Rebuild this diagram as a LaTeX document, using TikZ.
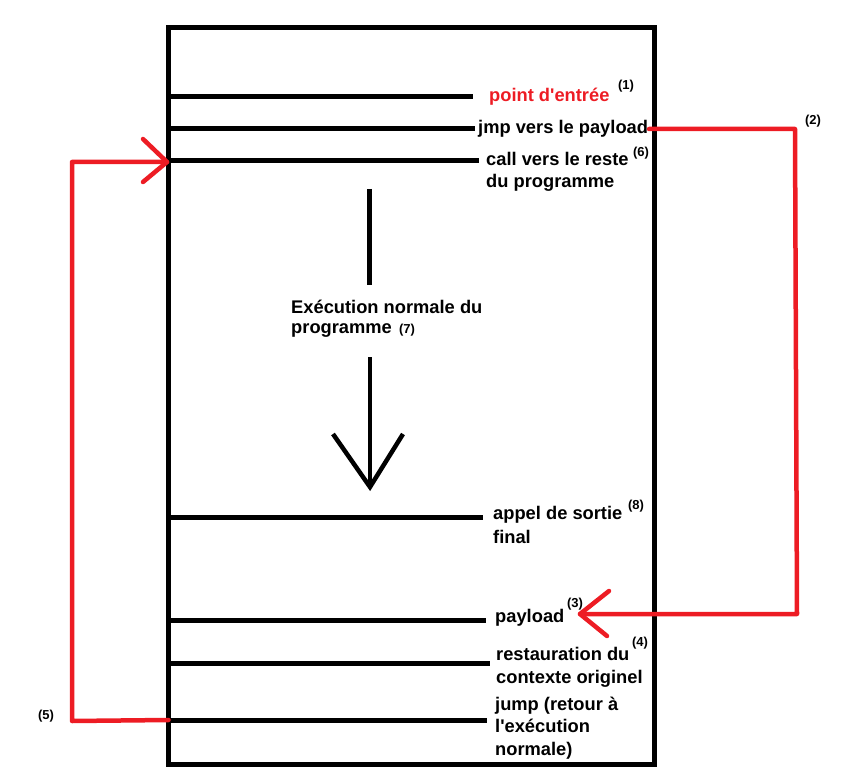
\documentclass[tikz,border=0pt]{standalone}
\usepackage{fontspec}
\setmainfont{Liberation Sans}
\definecolor{pred}{RGB}{237,28,36}
\begin{document}
\begin{tikzpicture}[x=1pt,y=-1pt,
  bar/.style={line width=5pt,black},
  redl/.style={line width=4.5pt,pred,line join=round,line cap=round},
  lbl/.style={font=\bfseries\fontsize{18.3}{22}\selectfont,anchor=base west,inner sep=0pt,align=left},
  supl/.style={font=\bfseries\fontsize{13}{15}\selectfont,inner sep=0pt}]
\useasboundingbox (0,0) rectangle (841,781);
% frame
\draw[bar] (168.5,27.5) rectangle (654.5,764.5);
% line start points on the frame
\coordinate (s1) at (168.5,97);
\coordinate (s2) at (168.5,129);
\coordinate (s3) at (168.5,161);
\coordinate (s8) at (168.5,517);
\coordinate (s3b) at (168.5,620);
\coordinate (s4) at (168.5,663);
\coordinate (s5) at (168.5,720);
% line end points
\coordinate (e1) at (473,97);
\coordinate (e2) at (475,129);
\coordinate (e3) at (479,161);
\coordinate (e8) at (483,517);
\coordinate (e3b) at (486,620);
\coordinate (e4) at (490,663);
\coordinate (e5) at (487,720);
\draw[bar] (s1) -- (e1);
\draw[bar] (s2) -- (e2);
\draw[bar] (s3) -- (e3);
\draw[bar] (s8) -- (e8);
\draw[bar] (s3b) -- (e3b);
\draw[bar] (s4) -- (e4);
\draw[bar] (s5) -- (e5);
% labels
\node[lbl,text=pred] (entree) at (489,102) {point d\textquotesingle entrée};
\node[supl] (n1) at (626,86) {(1)};
\node[lbl] (jmp) at (478,134) {jmp vers le payload};
\node[lbl] (call) at (486,188) {call vers le reste\\du programme};
\node[supl] (n6) at (641,153) {(6)};
\node[lbl,font=\bfseries\fontsize{18.3}{20}\selectfont] (exec) at (291,333) {Exécution normale du\\programme};
\node[supl] (n7) at (407,330) {(7)};
\node[lbl,font=\bfseries\fontsize{18.3}{24}\selectfont] (sortie) at (493,543) {appel de sortie\\final};
\node[supl] (n8) at (636,506) {(8)};
\node[lbl] (payload) at (495,622) {payload};
\node[supl] (n3) at (575,604) {(3)};
\node[lbl,font=\bfseries\fontsize{18.3}{23}\selectfont] (resto) at (496,683) {restauration du\\contexte originel};
\node[supl] (n4) at (640,643) {(4)};
\node[lbl,font=\bfseries\fontsize{18.3}{22.5}\selectfont] (jump) at (495,755) {jump (retour à\\l\textquotesingle exécution\\normale)};
\node[supl] (n2) at (813,121) {(2)};
\node[supl] (n5) at (46,716) {(5)};
% normal execution arrow
\coordinate (v1) at (369.5,189);
\coordinate (v2) at (369.5,285);
\coordinate (v3) at (370,357);
\coordinate (tip) at (370,487);
\draw[bar,line width=4.5pt] (v1) -- (v2);
\draw[bar,line width=4.5pt] (v3) -- (tip);
\draw[bar,line width=4.5pt,line join=miter] (333,434) -- (tip) -- (403,434);
% red jump to payload
\coordinate (r0) at (649,129);
\coordinate (r1) at (795,129);
\coordinate (r2) at (797,614);
\coordinate (ptip) at (580,614);
\draw[redl] (r0) -- (r1) -- (r2) -- (ptip);
\draw[redl] (609,591) -- (ptip) -- (607,636);
% red return arrow
\coordinate (l1) at (72,721);
\coordinate (l2) at (72,162);
\coordinate (ctip) at (167,162);
\draw[redl] (s5) -- (l1) -- (l2) -- (ctip);
\draw[redl] (143,139) -- (ctip) -- (143,182);
\end{tikzpicture}
\end{document}
